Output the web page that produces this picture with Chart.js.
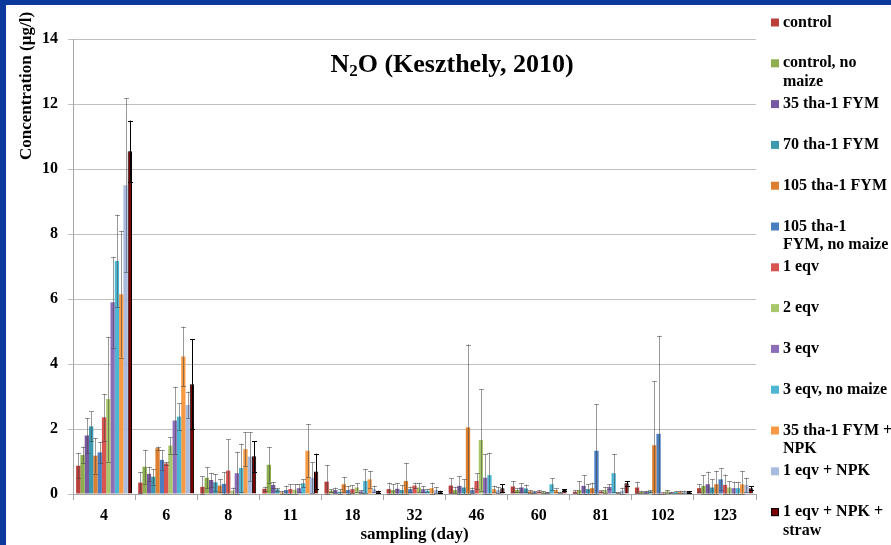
<!DOCTYPE html>
<html>
<head>
<meta charset="utf-8">
<script src="https://cdn.jsdelivr.net/npm/chart.js@4/dist/chart.umd.min.js"></script>
<style>
  html, body { margin: 0; padding: 0; background: #fff; }
  canvas { display: block; }
</style>
</head>
<body>
<canvas id="c" width="891" height="545"></canvas>
<script>
// Sampling days (category axis)
const days = ['4', '6', '8', '11', '18', '32', '46', '60', '81', '102', '123'];

// Mean N2O concentration (µg/l) per treatment
const control        = [0.87, 0.35, 0.22, 0.16, 0.38, 0.15, 0.26, 0.23, 0.07, 0.20, 0.18];
const controlNoMaize = [1.20, 0.84, 0.50, 0.90, 0.10, 0.12, 0.12, 0.12, 0.12, 0.07, 0.25];
const fym35          = [1.80, 0.62, 0.43, 0.28, 0.12, 0.16, 0.25, 0.20, 0.25, 0.07, 0.30];
const fym70          = [2.08, 0.53, 0.36, 0.14, 0.07, 0.12, 0.20, 0.17, 0.15, 0.08, 0.20];
const fym105         = [1.18, 1.41, 0.26, 0.05, 0.30, 0.40, 2.05, 0.08, 0.18, 1.50, 0.30];
const fym105NoMaize  = [1.28, 1.05, 0.31, 0.12, 0.12, 0.15, 0.12, 0.06, 1.33, 1.85, 0.45];
const eqv1           = [2.36, 0.94, 0.72, 0.15, 0.15, 0.26, 0.40, 0.08, 0.08, 0.03, 0.28];
const eqv2           = [2.92, 1.49, 0.10, 0.13, 0.20, 0.20, 1.66, 0.06, 0.12, 0.08, 0.20];
const eqv3           = [5.90, 2.26, 0.64, 0.18, 0.08, 0.15, 0.50, 0.05, 0.22, 0.05, 0.18];
const eqv3NoMaize    = [7.17, 2.38, 0.80, 0.33, 0.40, 0.10, 0.58, 0.30, 0.64, 0.06, 0.18];
const fym35Npk       = [6.15, 4.23, 1.38, 1.33, 0.45, 0.18, 0.15, 0.12, 0.04, 0.07, 0.30];
const eqv1Npk        = [9.50, 2.74, 1.15, 0.50, 0.15, 0.12, 0.12, 0.05, 0.10, 0.07, 0.28];
const eqv1NpkStraw   = [10.55, 3.38, 1.16, 0.69, 0.07, 0.07, 0.18, 0.12, 0.33, 0.06, 0.18];

// Standard deviation per treatment
const controlErr        = [0.39, 0.33, 0.33, 0.07, 0.51, 0.20, 0.22, 0.17, 0.04, 0.18, 0.12];
const controlNoMaizeErr = [0.26, 0.52, 0.32, 0.55, 0.05, 0.18, 0.10, 0.05, 0.28, 0.03, 0.33];
const fym35Err          = [0.54, 0.22, 0.22, 0.08, 0.08, 0.18, 0.30, 0.13, 0.33, 0.03, 0.39];
const fym70Err          = [0.46, 0.24, 0.26, 0.04, 0.07, 0.15, 0.25, 0.12, 0.15, 0.03, 0.25];
const fym105Err         = [0.55, 0.05, 0.20, 0.05, 0.23, 0.56, 2.55, 0.04, 0.17, 1.97, 0.41];
const fym105NoMaizeErr  = [0.32, 0.30, 0.36, 0.13, 0.13, 0.08, 0.08, 0.03, 1.43, 3.02, 0.34];
const eqv1Err           = [0.72, 0.05, 0.96, 0.15, 0.12, 0.09, 0.24, 0.03, 0.03, 0.02, 0.32];
const eqv2Err           = [1.92, 0.25, 0.10, 0.17, 0.13, 0.15, 1.56, 0.03, 0.10, 0.04, 0.20];
const eqv3Err           = [1.40, 1.04, 0.66, 0.12, 0.04, 0.10, 0.72, 0.02, 0.08, 0.02, 0.20];
const eqv3NoMaizeErr    = [1.43, 0.41, 0.75, 0.12, 0.37, 0.05, 0.69, 0.18, 0.59, 0.02, 0.20];
const fym35NpkErr       = [1.95, 0.92, 0.52, 0.82, 0.26, 0.17, 0.10, 0.05, 0.02, 0.03, 0.41];
const eqv1NpkErr        = [2.68, 0.41, 0.75, 0.47, 0.10, 0.10, 0.10, 0.02, 0.10, 0.03, 0.22];
const eqv1NpkStrawErr   = [0.94, 1.39, 0.47, 0.55, 0.03, 0.03, 0.12, 0.03, 0.07, 0.03, 0.06];

// Treatment names, as wrapped in the legend
const seriesLabels = [
  ['control'],
  ['control, no', 'maize'],
  ['35 tha-1 FYM'],
  ['70 tha-1 FYM'],
  ['105 tha-1 FYM'],
  ['105 tha-1', 'FYM, no maize'],
  ['1 eqv'],
  ['2 eqv'],
  ['3 eqv'],
  ['3 eqv, no maize'],
  ['35 tha-1 FYM +', 'NPK'],
  ['1 eqv + NPK'],
  ['1 eqv + NPK +', 'straw']
];

// Y axis ticks
const yTicks = [0, 2, 4, 6, 8, 10, 12, 14];

const seriesValues = [control, controlNoMaize, fym35, fym70, fym105, fym105NoMaize,
  eqv1, eqv2, eqv3, eqv3NoMaize, fym35Npk, eqv1Npk, eqv1NpkStraw];
const seriesErrors = [controlErr, controlNoMaizeErr, fym35Err, fym70Err, fym105Err, fym105NoMaizeErr,
  eqv1Err, eqv2Err, eqv3Err, eqv3NoMaizeErr, fym35NpkErr, eqv1NpkErr, eqv1NpkStrawErr];
const seriesColors = ['#B9403D', '#8DAE4C', '#7659A0', '#3A98AF', '#DD7F31', '#4A7EC0',
  '#D85451', '#A8C66A', '#8C6DB8', '#4DB6D2', '#F79A46', '#A9BCE0', '#7A0000'];

const SERIF = '"Liberation Serif", "Times New Roman", serif';

const datasets = seriesValues.map((vals, i) => ({
  label: seriesLabels[i].join(' '),
  data: vals,
  errors: seriesErrors[i],
  backgroundColor: seriesColors[i],
  borderColor: i === 12 ? '#000000' : seriesColors[i],
  borderWidth: i === 12 ? 1 : 0,
  categoryPercentage: 0.9,
  barPercentage: 1.0
}));

// Symmetric error bars with caps, positioned through the chart scales
const errorBars = {
  id: 'errorBars',
  afterDatasetsDraw(chart) {
    const ctx = chart.ctx;
    const y = chart.scales.y;
    ctx.save();
    chart.data.datasets.forEach((ds, i) => {
      const meta = chart.getDatasetMeta(i);
      ctx.strokeStyle = i === 12 ? '#000000' : 'rgba(70,70,70,0.55)';
      ctx.lineWidth = 1;
      meta.data.forEach((bar, j) => {
        const v = ds.data[j], e = ds.errors[j];
        const top = y.getPixelForValue(v + e);
        const bot = y.getPixelForValue(Math.max(0, v - e));
        const x = Math.round(bar.x) + 0.5;
        ctx.beginPath();
        ctx.moveTo(x, top); ctx.lineTo(x, bot);
        ctx.moveTo(x - 2.5, Math.round(top) + 0.5); ctx.lineTo(x + 2.5, Math.round(top) + 0.5);
        ctx.moveTo(x - 2.5, Math.round(bot) + 0.5); ctx.lineTo(x + 2.5, Math.round(bot) + 0.5);
        ctx.stroke();
      });
    });
    ctx.restore();
  }
};

// Background, frame, titles and the side legend
const decorations = {
  id: 'decorations',
  beforeDraw(chart) {
    const ctx = chart.ctx;
    ctx.save();
    ctx.fillStyle = '#ffffff';
    ctx.fillRect(0, 0, chart.width, chart.height);
    ctx.restore();
  },
  afterDraw(chart) {
    const ctx = chart.ctx;
    const area = chart.chartArea;
    ctx.save();

    // Frame bands
    ctx.fillStyle = '#0B3A9C';
    ctx.fillRect(0, 0, chart.width, 5);
    ctx.fillRect(0, 0, 6, chart.height);

    ctx.fillStyle = '#000000';
    ctx.textBaseline = 'middle';

    // Chart title: N2O with subscript
    const big = 'bold 26px ' + SERIF, small = 'bold 17px ' + SERIF;
    ctx.font = big; const wN = ctx.measureText('N').width;
    const rest = 'O (Keszthely, 2010)'; const wRest = ctx.measureText(rest).width;
    ctx.font = small; const w2 = ctx.measureText('2').width;
    let tx = 452 - (wN + w2 + wRest) / 2;
    const ty = 65;
    ctx.textAlign = 'left';
    ctx.font = big; ctx.fillText('N', tx, ty); tx += wN;
    ctx.font = small; ctx.fillText('2', tx, ty + 7); tx += w2;
    ctx.font = big; ctx.fillText(rest, tx, ty);

    // Y axis title
    ctx.save();
    ctx.translate(27, 86);
    ctx.rotate(-Math.PI / 2);
    ctx.textAlign = 'center';
    ctx.font = 'bold 17px ' + SERIF;
    ctx.fillText('Concentration (µg/l)', 0, 0);
    ctx.restore();

    // X axis title
    ctx.textAlign = 'center';
    ctx.font = 'bold 17px ' + SERIF;
    ctx.fillText('sampling (day)', (area.left + area.right) / 2, 535);

    // Legend
    ctx.textAlign = 'left';
    ctx.font = 'bold 16px ' + SERIF;
    chart.data.datasets.forEach((ds, i) => {
      const cy = 22.5 + 40.8 * i;
      ctx.fillStyle = ds.backgroundColor;
      ctx.fillRect(771, cy - 4, 8, 8);
      if (i === 12) { ctx.strokeStyle = '#000'; ctx.lineWidth = 1; ctx.strokeRect(771.5, cy - 3.5, 7, 7); }
      ctx.fillStyle = '#000000';
      seriesLabels[i].forEach((line, k) => {
        ctx.fillText(line, 783, cy + k * 18.5);
      });
    });
    ctx.restore();
  }
};

new Chart(document.getElementById('c'), {
  type: 'bar',
  data: { labels: days, datasets },
  plugins: [decorations, errorBars],
  options: {
    responsive: false,
    animation: false,
    events: [],
    layout: { padding: { left: 0, top: 39, right: 135, bottom: 0 } },
    plugins: { legend: { display: false }, title: { display: false }, tooltip: { enabled: false } },
    scales: {
      x: {
        offset: true,
        grid: { display: true, drawOnChartArea: false, drawTicks: true, tickLength: 6, color: '#A6A6A6', offset: true },
        border: { color: '#A6A6A6' },
        ticks: { color: '#000', font: { family: SERIF, size: 16, weight: 'bold' }, padding: 6, maxRotation: 0, autoSkip: false },
        afterFit(s) { s.height = 51; }
      },
      y: {
        min: 0,
        max: 14,
        afterBuildTicks(s) { s.ticks = yTicks.map(v => ({ value: v })); },
        grid: { color: '#BFBFBF', tickLength: 5 },
        border: { color: '#A6A6A6' },
        ticks: { color: '#000', font: { family: SERIF, size: 16, weight: 'bold' }, padding: 10 },
        afterFit(s) { s.width = 73; }
      }
    }
  }
});
</script>
</body>
</html>
